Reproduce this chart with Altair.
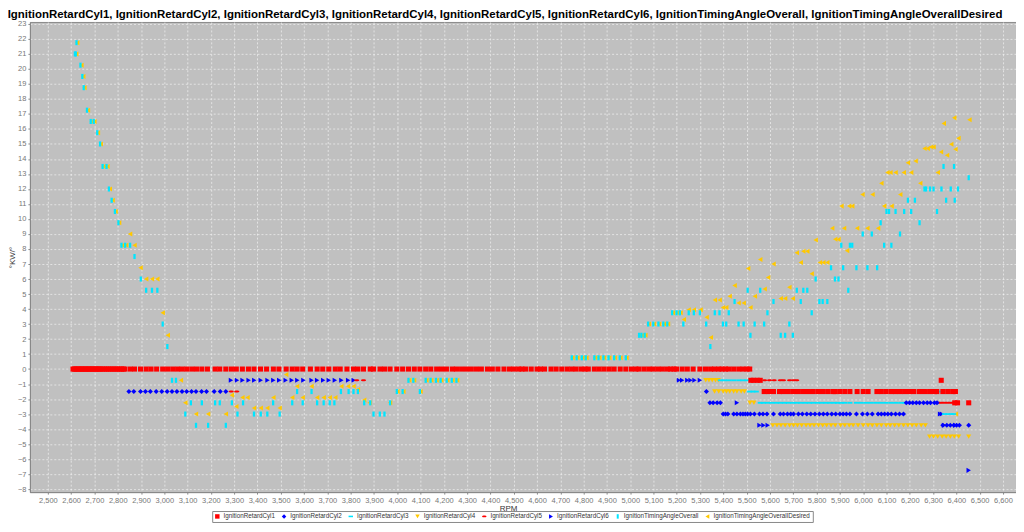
import altair as alt
import pandas as pd

SERIES = ["IgnitionRetardCyl1", "IgnitionRetardCyl2", "IgnitionRetardCyl3", "IgnitionRetardCyl4",
          "IgnitionRetardCyl5", "IgnitionRetardCyl6", "IgnitionTimingAngleOverall",
          "IgnitionTimingAngleOverallDesired"]
COLORS = ["#FF0000", "#0000FF", "#00E5FF", "#FFC800", "#FF0000", "#0000FF", "#00E5FF", "#FFC800"]
SHAPES = ["square", "diamond", "M-1,-0.35L1,-0.35L1,0.35L-1,0.35Z", "triangle-down",
          "M-1,0C-1,-0.5,1,-0.5,1,0C1,0.5,-1,0.5,-1,0Z", "triangle-right",
          "M-0.45,-1L0.45,-1L0.45,1L-0.45,1Z", "triangle-left"]

X_TICKS = [2500, 2600, 2700, 2800, 2900, 3000, 3100, 3200, 3300, 3400, 3500, 3600, 3700, 3800,
           3900, 4000, 4100, 4200, 4300, 4400, 4500, 4600, 4700, 4800, 4900, 5000, 5100, 5200,
           5300, 5400, 5500, 5600, 5700, 5800, 5900, 6000, 6100, 6200, 6300, 6400, 6500, 6600]
Y_TICKS = [-8, -7, -6, -5, -4, -3, -2, -1, 0, 1, 2, 3, 4, 5, 6, 7, 8, 9, 10, 11, 12, 13, 14, 15,
           16, 17, 18, 19, 20, 21, 22, 23]

# rpm values grouped by the (quantised) value they sit at
CYL1 = {
    0.0: [2608, 2614, 2620, 2626, 2632, 2638, 2644, 2650, 2656, 2662, 2668, 2674, 2680, 2686, 2692,
          2698, 2704, 2710, 2716, 2722, 2728, 2736, 2744, 2752, 2760, 2768, 2776, 2784, 2792, 2800,
          2808, 2816, 2824, 2830, 2853, 2872, 2898, 2922, 2943, 2967, 2993, 3014, 3036, 3057, 3076,
          3096, 3118, 3138, 3161, 3185, 3218, 3238, 3264, 3288, 3309, 3335, 3361, 3385, 3413, 3439,
          3468, 3492, 3523, 3549, 3570, 3594, 3627, 3656, 3680, 3706, 3734, 3755, 3784, 3812, 3831,
          3855, 3884, 3898, 3926, 3945, 3969, 3998, 4023, 4048, 4073, 4097, 4122, 4144, 4169, 4190,
          4211, 4236, 4254, 4276, 4297, 4318, 4340, 4361, 4387, 4408, 4432, 4458, 4482, 4501, 4521,
          4535, 4551, 4575, 4600, 4615, 4632, 4660, 4682, 4706, 4729, 4749, 4767, 4789, 4806, 4820,
          4846, 4867, 4888, 4910, 4931, 4957, 4981, 5005, 5024, 5038, 5060, 5081, 5099, 5119, 5138,
          5159, 5174, 5188, 5199, 5223, 5245, 5270, 5299, 5323, 5345, 5362, 5380, 5394, 5409, 5423,
          5444, 5466, 5484, 5501, 5513],
    -0.75: [5518, 5530, 5545, 5558, 6335],
    -1.5: [5575, 5594, 5615, 5641, 5658, 5679, 5701, 5722, 5744, 5765, 5786, 5808, 5829, 5850,
           5872, 5880, 5900, 5921, 5943, 5974, 6000, 6021, 6059, 6078, 6099, 6121, 6139, 6159,
           6178, 6199, 6218, 6242, 6263, 6285, 6306, 6316, 6342, 6363, 6384, 6396],
    -2.25: [6393, 6405, 6453],
}
CYL2 = {
    -1.5: [2848, 2869, 2898, 2919, 2940, 2965, 2989, 3012, 3033, 3054, 3076, 3096, 3117, 3136,
           3160, 3181, 3214, 3240, 3264, 5327],
    -2.25: [5342, 5356, 5373, 5387, 6185, 6199, 6213, 6228, 6242, 6259, 6275, 6289, 6306, 6317],
    -3.0: [5399, 5409, 5419, 5444, 5458, 5473, 5484, 5494, 5504, 5516, 5533, 5555, 5570, 5587,
           5615, 5644, 5658, 5675, 5689, 5701, 5722, 5739, 5758, 5775, 5793, 5812, 5829, 5846,
           5865, 5882, 5900, 5914, 5928, 5943, 5971, 5997, 6018, 6039, 6064, 6078, 6092, 6106,
           6121, 6139, 6156, 6173],
    -3.75: [6342, 6359, 6374, 6389, 6401, 6413, 6453],
}
CYL3 = {
    -0.75: [5387, 5404, 5423, 5444, 5466, 5484, 5501],
    -1.5: [5513, 5527, 5541, 6330],
    -2.25: [5558, 5572, 5590, 5608, 5627, 5644, 5662, 5679, 5698, 5715, 5732, 5751, 5769, 5786,
            5805, 5822, 5840, 5857, 5875, 5890, 5905, 5921, 5943, 5971, 5992, 6014, 6035, 6057,
            6078, 6099, 6121, 6142, 6163, 6178],
    -3.0: [6349, 6363, 6378, 6388],
}
CYL4 = {
    -0.75: [5324, 5338, 5352, 5366, 5378],
    -1.5: [5362, 5380, 5399, 5413, 5427, 5444, 5458, 5476, 5490],
    -2.25: [5514, 5531],
    -3.75: [5612, 5630, 5647, 5665, 5684, 5701, 5718, 5736, 5755, 5772, 5789, 5808, 5826, 5843,
            5862, 5880, 5903, 5921, 5940, 5957, 5978, 6000, 6021, 6039, 6059, 6078, 6099, 6116,
            6135, 6153, 6173, 6192, 6210, 6228, 6249, 6267],
    -4.5: [6285, 6302, 6320, 6339, 6356, 6374, 6391, 6410, 6453],
}
CYL5 = {
    -1.5: [3287, 3311],
    -0.75: [3826, 3855, 5577, 5598, 5618, 5644, 5658, 5684, 5701, 5715],
    -2.25: [6326, 6340, 6355, 6370, 6384],
}
CYL6 = {
    -0.75: [3286, 3312, 3336, 3362, 3386, 3414, 3443, 3468, 3493, 3521, 3547, 3571, 3597, 3632,
            3656, 3682, 3706, 3732, 3760, 3789, 3813, 5209, 5223, 5245, 5259, 5276, 5299],
    -2.25: [5458],
    -3.0: [6330, 6338],
    -3.75: [5555, 5572, 5590, 6347, 6395],
    -6.75: [6453],
}
OVERALL = {
    21.75: [2623],
    21.0: [2616, 2620],
    20.25: [2640],
    19.5: [2648],
    18.75: [2654],
    17.25: [2668],
    16.5: [2684, 2697],
    15.75: [2712],
    15.0: [2724],
    13.5: [2735, 2752, 6345, 6390],
    12.75: [6453],
    12.0: [2762, 6263, 6270, 6287, 6302, 6336, 6376, 6407],
    11.25: [2774, 6192, 6222, 6356, 6393],
    10.5: [2788, 6100, 6111, 6139, 6176, 6206, 6317],
    9.75: [2803, 6075, 6242],
    9.0: [5998, 6037, 6158],
    8.25: [2816, 2832, 2853, 5906, 5943, 5953, 6090, 6121],
    7.5: [2872],
    6.75: [5862, 5914, 5971, 6018, 6060],
    6.0: [2899, 5796, 5879, 5894],
    5.25: [2922, 2947, 2970, 5504, 5558, 5715, 5743, 5760, 5936],
    4.5: [5448, 5615, 5732, 5812, 5826, 5846],
    3.75: [5180, 5199, 5213, 5251, 5273, 5299, 5363, 5383, 5423, 5589, 5779],
    3.0: [2993, 5077, 5099, 5121, 5142, 5159, 5228, 5326, 5398, 5412, 5465, 5487, 5534, 5575,
          5683],
    2.25: [5038, 5048, 5062, 5516, 5646, 5665, 5698],
    1.5: [3013, 5344],
    0.75: [4749, 4770, 4792, 4809, 4846, 4864, 4885, 4907, 4931, 4955, 4981],
    -0.75: [3033, 3050, 4048, 4069, 4122, 4143, 4166, 4186, 4212, 4234, 4254],
    -1.5: [3570, 3632, 3758, 3791, 3812, 3831, 3998, 4023, 4097],
    -2.25: [3114, 3161, 3218, 3238, 3290, 3338, 3467, 3549, 3594, 3656, 3684, 3710, 3730, 3858,
            3884, 3969],
    -3.0: [3090, 3314, 3385, 3414, 3442, 3495, 3898, 3925, 3945],
    -3.75: [3136, 3188, 3264],
}
DESIRED_RPM = [2626, 2622, 2644, 2652, 2657, 2672, 2688, 2700, 2715, 2727, 2739, 2756, 2766,
               2778, 2791, 2806, 2820, 2836, 2853, 2872, 2898, 2922, 2947, 2970, 2993, 3015,
               3071, 3090, 3136, 3188, 3264, 3290, 3309, 3335, 3357, 3385, 3414, 3442, 3495,
               3468, 3523, 3549, 3570, 3594, 3632, 3656, 3684, 3710, 3734, 3760, 3789, 3812,
               3831, 3858, 3881, 3969, 4001, 4026, 4100, 4051, 4072, 4125, 4146, 4169, 4189,
               4215, 4237, 4257, 4752, 4773, 4795, 4812, 4849, 4867, 4888, 4910, 4934, 4958,
               4984, 5041, 5051, 5065, 5080, 5102, 5124, 5145, 5162, 5183, 5202, 5216, 5230,
               5251, 5273, 5302, 5328, 5346, 5363, 5384, 5398, 5412, 5427, 5448, 5465, 5487,
               5506, 5516, 5535, 5558, 5577, 5592, 5615, 5646, 5665, 5683, 5698, 5715, 5732,
               5743, 5760, 5779, 5796, 5814, 5829, 5846, 5867, 5880, 5894, 5907, 5918, 5931,
               5940, 5953, 5974, 5997, 6018, 6040, 6064, 6078, 6090, 6104, 6117, 6122, 6139,
               6159, 6174, 6192, 6206, 6225, 6245, 6263, 6277, 6291, 6302, 6320, 6334, 6346,
               6360, 6378, 6391, 6396, 6398, 6409, 6456]
DESIRED_VAL = [21.75, 21.0, 20.25, 19.5, 18.75, 17.25, 16.5, 16.5, 15.75, 15.0, 13.5, 13.5, 12.0,
               11.25, 10.5, 9.75, 8.25, 8.25, 9.0, 8.25, 6.75, 6.0, 6.0, 6.0, 3.75, 2.25,
               -0.75, -2.25, -3.0, -3.0, -3.0, -1.74, -2.5, -1.89, -1.89, -2.6, -2.6, -2.6, -2.6,
               -1.89, -0.37, -1.89, -1.15, -1.89, -1.15, -1.89, -1.89, -1.89, -1.89, -1.15, -1.15,
               -1.15, -1.37, -2.07, -2.24, -2.24, -1.5, -1.5, -1.5, -0.75, -0.75, -0.75, -0.75,
               -0.75, -0.75, -0.75, -0.75, -0.75, 0.75, 0.75, 0.75, 0.75, 0.75, 0.75, 0.75, 0.75,
               0.75, 0.75, 0.75, 2.25, 2.25, 2.25, 3.0, 3.0, 3.0, 3.0, 3.0, 3.75, 3.75, 3.75, 3.3,
               3.95, 3.95, 3.95, 3.45, 2.1, 4.6, 4.6, 4.1, 4.1, 4.85, 5.57, 4.4, 4.4, 6.7, 4.1,
               4.85, 7.3, 5.33, 6.1, 7.0, 4.7, 4.7, 5.45, 4.7, 7.75, 7.1, 7.85, 7.85, 6.35, 8.6,
               7.1, 7.1, 7.1, 9.38, 8.65, 8.64, 10.86, 9.38, 7.89, 10.86, 10.86, 9.38, 11.63,
               9.38, 11.63, 9.38, 12.38, 10.86, 13.1, 13.1, 10.86, 13.1, 11.63, 13.1, 13.75,
               13.1, 13.86, 12.38, 14.7, 14.7, 14.8, 14.8, 13.1, 14.47, 16.37, 14.25, 14.98,
               16.74, 14.65, -3.0, 15.38, 16.61]

rows = []
# drawing order: last series first so that IgnitionRetardCyl1 ends on top
rows += [{"s": SERIES[7], "rpm": r, "v": v} for r, v in zip(DESIRED_RPM, DESIRED_VAL)]
for name, groups in [(SERIES[6], OVERALL), (SERIES[5], CYL6), (SERIES[4], CYL5),
                     (SERIES[3], CYL4), (SERIES[2], CYL3), (SERIES[1], CYL2), (SERIES[0], CYL1)]:
    for v, rpms in groups.items():
        rows += [{"s": name, "rpm": r, "v": v} for r in rpms]
df = pd.DataFrame(rows)

FONT = "Liberation Sans"
TITLE = ", ".join(SERIES)

chart = alt.Chart(df).mark_point(filled=True, opacity=1, size=26, strokeWidth=0).encode(
    x=alt.X("rpm:Q", scale=alt.Scale(domain=[2423, 6656], nice=False, zero=False),
            axis=alt.Axis(values=X_TICKS, format=",d", title="RPM", titleX=480)),
    y=alt.Y("v:Q", scale=alt.Scale(domain=[-8.2, 23.13], nice=False, zero=False),
            axis=alt.Axis(values=Y_TICKS, format="d", title="°KW/°", titleX=-17,
                          titleY=236, titleAlign="center", titleBaseline="middle")),
    color=alt.Color("s:N", scale=alt.Scale(domain=SERIES, range=COLORS),
                    legend=alt.Legend(orient="none", legendX=183, legendY=491,
                                      direction="horizontal", columns=8, title=None,
                                      symbolSize=20, labelFontSize=6.3, labelFont=FONT,
                                      labelColor="#333333", labelOffset=3, columnPadding=5,
                                      padding=2, strokeColor="#888888", fillColor="#FFFFFF",
                                      symbolStrokeWidth=0, labelLimit=200)),
    shape=alt.Shape("s:N", scale=alt.Scale(domain=SERIES, range=SHAPES)),
).properties(
    width=990, height=472,
    autosize=alt.AutoSizeParams(type="none"),
    padding={"left": 22, "top": 13, "right": 0, "bottom": 31},
    title=alt.TitleParams(TITLE, font=FONT, fontSize=11.5, fontWeight="bold", color="#000000",
                          anchor="middle", frame="group", offset=0, dy=1, dx=-18),
).configure_view(
    fill="#C0C0C0", stroke="#888888", strokeWidth=1
).configure_axis(
    labelFont=FONT, labelFontSize=7.5, labelColor="#777777", titleFont=FONT, titleFontSize=8,
    titleFontWeight="normal", titleColor="#333333", tickColor="#888888", tickSize=2,
    domainColor="#888888", gridColor="#FFFFFF", gridOpacity=0.8, gridDash=[2, 2],
    gridWidth=0.7, labelPadding=2
).configure_axisX(
    titlePadding=1
)

chart.save("out.html", embed_options={"renderer": "svg", "actions": False})
